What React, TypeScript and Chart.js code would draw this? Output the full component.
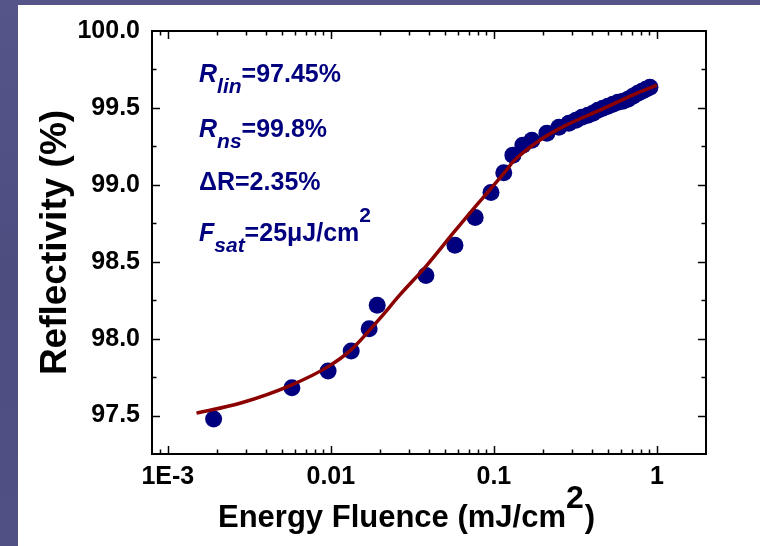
import { useEffect, useRef } from 'react';
import { Chart, registerables } from 'chart.js';

Chart.register(...registerables);

// ---- data ----
const fluence = [
  0.00191, 0.00577, 0.00962, 0.01333, 0.01718, 0.01925, 0.0383, 0.0577, 0.0768, 0.096,
  0.115, 0.1308, 0.1506, 0.171, 0.2115, 0.2505, 0.2885, 0.3186, 0.3466, 0.3773,
  0.4049, 0.4345, 0.4664, 0.5005, 0.5372, 0.5764, 0.6187, 0.664, 0.7126, 0.7646,
  0.8091, 0.856, 0.906,
];
const reflectivity = [
  97.477, 97.68, 97.79, 97.92, 98.065, 98.217, 98.41, 98.607, 98.788, 98.95,
  99.078, 99.193, 99.258, 99.29, 99.336, 99.375, 99.4, 99.42, 99.44, 99.453,
  99.466, 99.485, 99.498, 99.511, 99.524, 99.537, 99.544, 99.556, 99.576, 99.596,
  99.609, 99.622, 99.635,
];
const fitFluence = [
  0.0015, 0.00277, 0.00577, 0.00962, 0.0133, 0.02, 0.0265, 0.0383, 0.0577, 0.0765,
  0.096, 0.1194, 0.1308, 0.191, 0.278, 0.448, 0.71, 1.0,
];
const fitReflectivity = [
  97.516, 97.58, 97.7, 97.818, 97.927, 98.132, 98.284, 98.47, 98.7, 98.855,
  98.976, 99.095, 99.149, 99.29, 99.388, 99.485, 99.583, 99.648,
];

const xMin = 0.0008;
const xMax = 2;
const xMajorTicks = [0.001, 0.01, 0.1, 1];
const xTickLabels = ['1E-3', '0.01', '0.1', '1'];
const xMinorMantissas = [2, 3, 4, 5, 6, 7, 8, 9];
const xMinorTicks = [0.0009, ...xMajorTicks.flatMap((d) => xMinorMantissas.map((m) => m * d))];

const yMin = 97.25;
const yMax = 100;
const yMajorTicks = [97.5, 98.0, 98.5, 99.0, 99.5, 100.0];
const yTickLabels = ['97.5', '98.0', '98.5', '99.0', '99.5', '100.0'];
const yMinorTicks = [97.75, 98.25, 98.75, 99.25, 99.75];

const xTitleParts = ['Energy Fluence (mJ/cm', '2', ')'];
const yTitle = 'Reflectivity (%)';

type Seg = { text: string; style: string; size: number; dy: number };
const annotationLines: Seg[][] = [
  [
    { text: 'R', style: 'italic bold', size: 25, dy: 0 },
    { text: 'lin', style: 'italic bold', size: 21, dy: 11 },
    { text: '=97.45%', style: 'bold', size: 25, dy: 0 },
  ],
  [
    { text: 'R', style: 'italic bold', size: 25, dy: 0 },
    { text: 'ns', style: 'italic bold', size: 21, dy: 11 },
    { text: '=99.8%', style: 'bold', size: 25, dy: 0 },
  ],
  [{ text: '\u0394R=2.35%', style: 'bold', size: 25, dy: 0 }],
  [
    { text: 'F', style: 'italic bold', size: 25, dy: 0 },
    { text: 'sat', style: 'italic bold', size: 21, dy: 11 },
    { text: '=25\u03BCJ/cm', style: 'bold', size: 25, dy: 0 },
    { text: '2', style: 'bold', size: 21, dy: -19 },
  ],
];
const annotationX = 199;
const annotationBaselines = [82, 137, 190, 241];

const FONT = '"Liberation Sans", Arial, Helvetica, sans-serif';
const NAVY = '#00007F';
const CURVE = '#8B0000';

const framePlugin = {
  id: 'originFrame',
  afterDraw(chart: any) {
    const { ctx, chartArea } = chart;
    const { left, right, top, bottom } = chartArea;
    const xs = chart.scales.x;
    const ys = chart.scales.y;
    ctx.save();
    ctx.strokeStyle = '#000';
    ctx.lineWidth = 1.5;
    const tick = (x1: number, y1: number, x2: number, y2: number) => {
      ctx.beginPath();
      ctx.moveTo(x1, y1);
      ctx.lineTo(x2, y2);
      ctx.stroke();
    };
    const xTicks = [
      ...xMajorTicks.map((v) => ({ v, len: 8 })),
      ...xMinorTicks.map((v) => ({ v, len: 4.5 })),
    ];
    xTicks.forEach(({ v, len }) => {
      const px = Math.round(xs.getPixelForValue(v)) + 0.5;
      if (px <= left + 1 || px >= right - 1) return;
      tick(px, bottom, px, bottom - len);
      tick(px, top, px, top + len);
    });
    const yTicks = [
      ...yMajorTicks.map((v) => ({ v, len: 8 })),
      ...yMinorTicks.map((v) => ({ v, len: 4.5 })),
    ];
    yTicks.forEach(({ v, len }) => {
      const py = Math.round(ys.getPixelForValue(v)) + 0.5;
      if (py <= top + 1 || py >= bottom - 1) return;
      tick(left, py, left + len, py);
      tick(right, py, right - len, py);
    });
    ctx.lineWidth = 2;
    ctx.strokeRect(left, top, right - left, bottom - top);

    // axis titles
    ctx.fillStyle = '#000';
    ctx.textBaseline = 'alphabetic';
    ctx.textAlign = 'left';
    ctx.font = `bold 31px ${FONT}`;
    let tx = 218;
    const tBase = 527;
    ctx.fillText(xTitleParts[0], tx, tBase);
    tx += ctx.measureText(xTitleParts[0]).width;
    ctx.font = `bold 32px ${FONT}`;
    ctx.fillText(xTitleParts[1], tx, tBase - 19);
    tx += ctx.measureText(xTitleParts[1]).width + 1;
    ctx.font = `bold 31px ${FONT}`;
    ctx.fillText(xTitleParts[2], tx, tBase);

    ctx.save();
    ctx.translate(66, (top + bottom) / 2);
    ctx.rotate(-Math.PI / 2);
    ctx.font = `bold 37px ${FONT}`;
    ctx.textAlign = 'center';
    ctx.fillText(yTitle, 0, 0);
    ctx.restore();

    // annotations
    ctx.fillStyle = NAVY;
    ctx.textAlign = 'left';
    annotationLines.forEach((segs, i) => {
      let ax = annotationX;
      const base = annotationBaselines[i];
      segs.forEach((s) => {
        ctx.font = `${s.style} ${s.size}px ${FONT}`;
        ctx.fillText(s.text, ax, base + s.dy);
        ax += ctx.measureText(s.text).width;
      });
    });
    ctx.restore();
  },
};

export default function App() {
  const ref = useRef<HTMLCanvasElement | null>(null);

  useEffect(() => {
    if (!ref.current) return;
    const chart = new Chart(ref.current, {
      type: 'scatter',
      data: {
        datasets: [
          {
            label: 'Fit',
            data: fitFluence.map((x, i) => ({ x, y: fitReflectivity[i] })),
            showLine: true,
            borderColor: CURVE,
            borderWidth: 3.5,
            pointRadius: 0,
            cubicInterpolationMode: 'monotone',
            order: 0,
          } as any,
          {
            label: 'Data',
            data: fluence.map((x, i) => ({ x, y: reflectivity[i] })),
            backgroundColor: NAVY,
            pointBackgroundColor: NAVY,
            pointBorderWidth: 0,
            pointRadius: 8.5,
            order: 1,
          } as any,
        ],
      },
      options: {
        responsive: false,
        animation: false,
        devicePixelRatio: 1,
        layout: { padding: { left: 0, right: 54, top: 31, bottom: 0 } },
        plugins: { legend: { display: false }, tooltip: { enabled: false } },
        scales: {
          x: {
            type: 'logarithmic',
            position: 'bottom',
            min: xMin,
            max: xMax,
            grid: { display: false, drawTicks: false },
            border: { display: false },
            afterBuildTicks: (scale: any) => {
              scale.ticks = xMajorTicks.map((v) => ({ value: v }));
            },
            afterFit: (scale: any) => {
              scale.height = 92;
            },
            ticks: {
              autoSkip: false,
              maxRotation: 0,
              padding: 8,
              color: '#000',
              font: { family: FONT, size: 25, weight: 'bold' },
              callback: (v: any) => {
                const i = xMajorTicks.findIndex((t) => Math.abs(t - Number(v)) / t < 1e-6);
                return i >= 0 ? xTickLabels[i] : '';
              },
            },
          },
          y: {
            type: 'linear',
            min: yMin,
            max: yMax,
            grid: { display: false, drawTicks: false },
            border: { display: false },
            afterBuildTicks: (scale: any) => {
              scale.ticks = yMajorTicks.map((v) => ({ value: v }));
            },
            afterFit: (scale: any) => {
              scale.width = 152;
            },
            ticks: {
              autoSkip: false,
              padding: 12,
              color: '#000',
              font: { family: FONT, size: 25, weight: 'bold' },
              callback: (v: any) => {
                const i = yMajorTicks.findIndex((t) => Math.abs(t - Number(v)) < 1e-6);
                return i >= 0 ? yTickLabels[i] : '';
              },
            },
          },
        },
      } as any,
      plugins: [framePlugin],
    });
    return () => chart.destroy();
  }, []);

  return (
    <div
      style={{
        position: 'fixed',
        left: 0,
        top: 0,
        width: 760,
        height: 546,
        overflow: 'hidden',
        background: 'linear-gradient(180deg, #55558a 0%, #4d4d80 50%, #505085 100%)',
      }}
    >
      <div style={{ position: 'absolute', left: 18, top: 5, right: 0, bottom: 0, background: '#fff' }} />
      <canvas
        ref={ref}
        width={760}
        height={546}
        style={{ position: 'absolute', left: 0, top: 0, width: 760, height: 546 }}
      />
    </div>
  );
}
